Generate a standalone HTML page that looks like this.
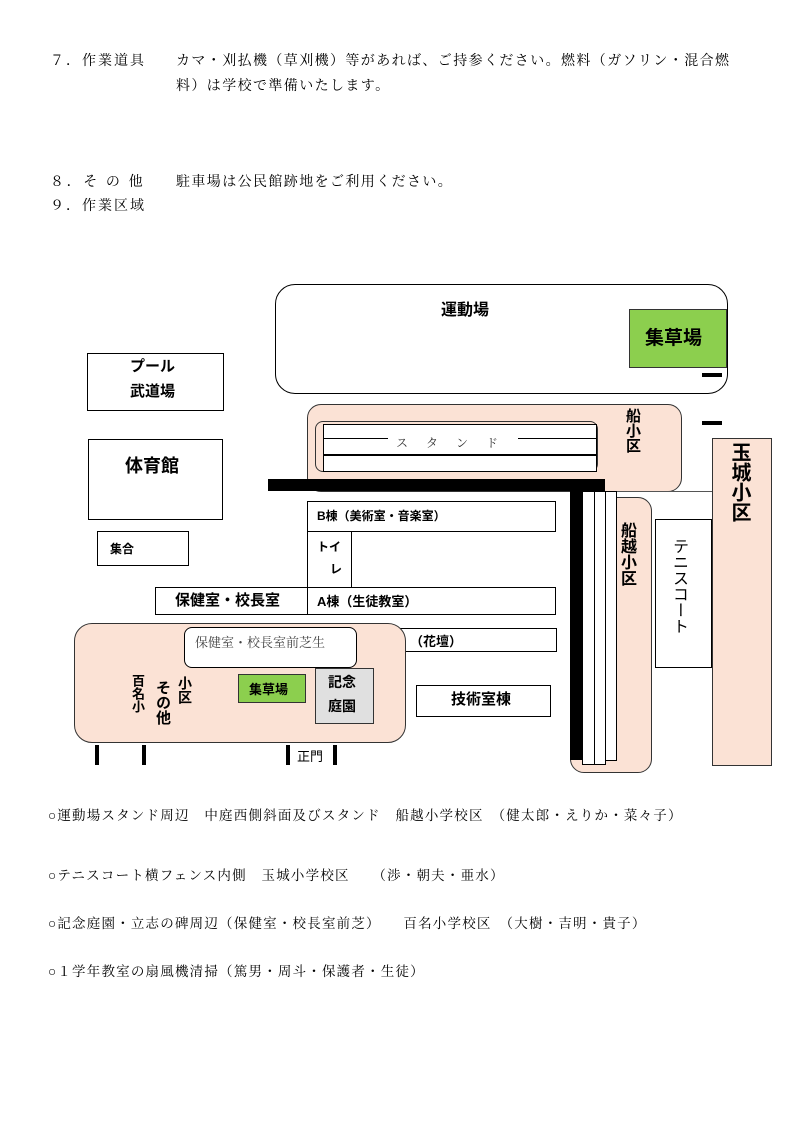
<!DOCTYPE html>
<html><head><meta charset="utf-8"><style>
body{margin:0;width:794px;height:1123px;background:#fff;position:relative;overflow:hidden;font-family:"Liberation Serif","Noto Serif CJK SC","Noto Sans CJK JP",serif;color:#000}
.a{position:absolute;box-sizing:border-box}
.t{position:absolute;font-size:14px;white-space:nowrap;line-height:18px}
.p{letter-spacing:1.4px}
.b{border:1px solid #000;background:#fff}
.g{font-family:"Liberation Sans","Noto Sans CJK JP",sans-serif;font-weight:bold}
.pk{background:#fbe2d5;border:1px solid #333}
.v{writing-mode:vertical-rl;text-orientation:upright}
</style></head><body>
<div class="t p" style="left:50px;top:53px;letter-spacing:2px">７．作業道具</div>
<div class="t p" style="left:176px;top:53px">カマ・刈払機（草刈機）等があれば、ご持参ください。燃料（ガソリン・混合燃</div>
<div class="t p" style="left:176px;top:78px">料）は学校で準備いたします。</div>
<div class="t p" style="left:50px;top:174px;letter-spacing:2.6px">８．そ の 他</div>
<div class="t p" style="left:176px;top:174px">駐車場は公民館跡地をご利用ください。</div>
<div class="t p" style="left:50px;top:198px;letter-spacing:2px">９．作業区域</div>

<div class="a b" style="left:275px;top:284px;width:453px;height:110px;border-radius:20px"></div>
<div class="t g" style="left:441px;top:302px;font-size:16px">運動場</div>
<div class="a" style="left:629px;top:309px;width:98px;height:59px;background:#8ccf4e;border:1px solid #333"></div>
<div class="t g" style="left:645px;top:328px;font-size:19px;line-height:22px">集草場</div>
<div class="a" style="left:702px;top:373px;width:20px;height:4px;background:#000"></div>
<div class="a" style="left:702px;top:421px;width:20px;height:4px;background:#000"></div>

<div class="a b" style="left:87px;top:353px;width:137px;height:58px"></div>
<div class="t g" style="left:130px;top:358px;font-size:15px">プール</div>
<div class="t g" style="left:130px;top:383px;font-size:15px">武道場</div>
<div class="a b" style="left:88px;top:439px;width:135px;height:81px"></div>
<div class="t g" style="left:125px;top:455px;font-size:18px;line-height:22px">体育館</div>

<div class="a pk" style="left:307px;top:404px;width:375px;height:88px;border-radius:14px"></div>
<div class="a" style="left:315px;top:421px;width:283px;height:51px;border:1px solid #333;border-radius:8px;background:#fbe2d5"></div>
<div class="a b" style="left:323px;top:424px;width:274px;height:15px"></div>
<div class="a b" style="left:323px;top:438px;width:274px;height:17px"></div>
<div class="a b" style="left:323px;top:455px;width:274px;height:17px"></div>
<div class="a" style="left:388px;top:432px;width:130px;height:20px;background:#fff"></div>
<div class="t" style="left:396px;top:434px;font-size:12px;letter-spacing:18px;color:#333">スタンド</div>
<div class="t g v" style="left:623px;top:408px;font-size:15px;line-height:18px">船小区</div>

<div class="a" style="left:605px;top:491px;width:108px;height:1px;background:#555"></div>
<div class="a pk" style="left:570px;top:497px;width:82px;height:276px;border-radius:14px"></div>
<div class="a b" style="left:582px;top:491px;width:13px;height:274px"></div>
<div class="a b" style="left:594px;top:491px;width:12px;height:274px"></div>
<div class="a b" style="left:605px;top:491px;width:12px;height:270px"></div>
<div class="a" style="left:268px;top:479px;width:337px;height:12px;background:#000"></div>
<div class="a" style="left:570px;top:488px;width:12px;height:272px;background:#000"></div>
<div class="t g v" style="left:616px;top:522px;font-size:16px;line-height:20px">船越小区</div>

<div class="a b" style="left:655px;top:519px;width:57px;height:149px"></div>
<div class="t v" style="left:668px;top:538px;font-size:16px;line-height:20px;font-family:'Liberation Sans','Noto Sans CJK JP',sans-serif">テニスコート</div>
<div class="a pk" style="left:712px;top:438px;width:60px;height:328px"></div>
<div class="t g v" style="left:727px;top:442px;font-size:20px;line-height:24px">玉城小区</div>

<div class="a b" style="left:307px;top:501px;width:249px;height:31px"></div>
<div class="t g" style="left:317px;top:507px;font-size:12px">B棟（美術室・音楽室）</div>
<div class="a b" style="left:307px;top:531px;width:45px;height:57px"></div>
<div class="t g" style="left:317px;top:538px;font-size:12px">トイ</div>
<div class="t g" style="left:330px;top:560px;font-size:12px">レ</div>
<div class="a b" style="left:155px;top:587px;width:153px;height:28px"></div>
<div class="t g" style="left:175px;top:592px;font-size:15px">保健室・校長室</div>
<div class="a b" style="left:307px;top:587px;width:249px;height:28px"></div>
<div class="t g" style="left:317px;top:593px;font-size:13px">A棟（生徒教室）</div>
<div class="a b" style="left:395px;top:628px;width:162px;height:24px"></div>
<div class="t g" style="left:410px;top:633px;font-size:13px">（花壇）</div>
<div class="a b" style="left:97px;top:531px;width:92px;height:35px"></div>
<div class="t g" style="left:110px;top:540px;font-size:12px">集合</div>

<div class="a pk" style="left:74px;top:623px;width:332px;height:120px;border-radius:18px"></div>
<div class="a b" style="left:184px;top:627px;width:173px;height:41px;border-radius:8px"></div>
<div class="t" style="left:195px;top:634px;font-size:13px;color:#444">保健室・校長室前芝生</div>
<div class="a" style="left:238px;top:674px;width:68px;height:29px;background:#8ccf4e;border:1px solid #333"></div>
<div class="t g" style="left:249px;top:681px;font-size:13px">集草場</div>
<div class="a" style="left:315px;top:668px;width:59px;height:56px;background:#e0e0e0;border:1px solid #333"></div>
<div class="t g" style="left:328px;top:673px;font-size:14px">記念</div>
<div class="t g" style="left:328px;top:697px;font-size:14px">庭園</div>
<div class="t g v" style="left:130px;top:674px;font-size:13px;line-height:15px">百名小</div>
<div class="t g v" style="left:153px;top:680px;font-size:15px;line-height:18px">その他</div>
<div class="t g v" style="left:177px;top:676px;font-size:14px;line-height:16px">小区</div>
<div class="a b" style="left:416px;top:685px;width:135px;height:32px"></div>
<div class="t g" style="left:451px;top:691px;font-size:15px">技術室棟</div>

<div class="a" style="left:95px;top:745px;width:4px;height:20px;background:#000"></div>
<div class="a" style="left:142px;top:745px;width:4px;height:20px;background:#000"></div>
<div class="a" style="left:286px;top:745px;width:4px;height:20px;background:#000"></div>
<div class="a" style="left:333px;top:745px;width:4px;height:20px;background:#000"></div>
<div class="t" style="left:297px;top:748px;font-size:13px;font-family:'Liberation Sans','Noto Sans CJK JP',sans-serif">正門</div>

<div class="t" style="left:48px;top:807px;font-size:13.5px;letter-spacing:1.2px">○運動場スタンド周辺　中庭西側斜面及びスタンド　船越小学校区　（健太郎・えりか・菜々子）</div>
<div class="t" style="left:48px;top:867px;font-size:13.5px;letter-spacing:1.2px">○テニスコート横フェンス内側　玉城小学校区　　（渉・朝夫・亜水）</div>
<div class="t" style="left:48px;top:915px;font-size:13.5px;letter-spacing:1.2px">○記念庭園・立志の碑周辺（保健室・校長室前芝）　　百名小学校区　（大樹・吉明・貴子）</div>
<div class="t" style="left:48px;top:963px;font-size:13.5px;letter-spacing:1.2px">○１学年教室の扇風機清掃（篤男・周斗・保護者・生徒）</div>
</body></html>
